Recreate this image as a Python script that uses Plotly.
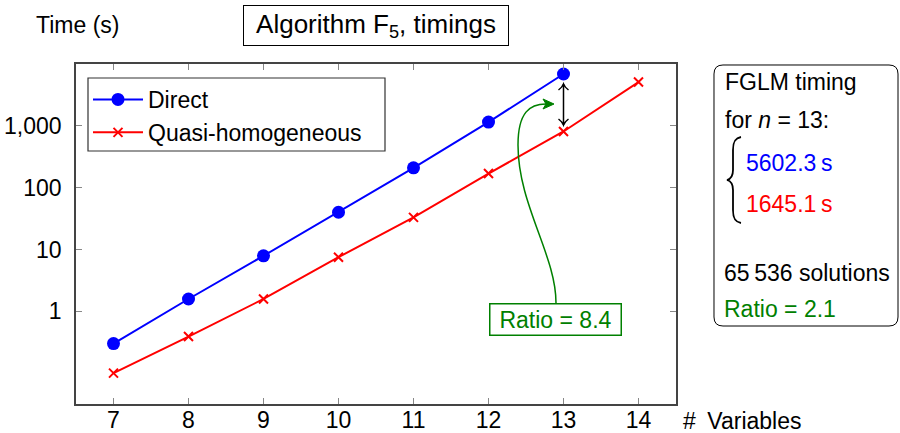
import math
import plotly.graph_objects as go

# ---- data ----
variables = [7, 8, 9, 10, 11, 12, 13, 14]
direct_times = [0.30, 1.58, 7.9, 40, 209, 1150, 6890]
quasi_times = [0.10, 0.39, 1.58, 7.5, 33, 169, 810, 5100]
y_tick_vals = [1, 10, 100, 1000]
y_tick_text = ["1", "10", "100", "1,000"]

FONT = "Liberation Sans, Arial, Helvetica, sans-serif"
FS = 23
BLUE = "#0000FF"
RED = "#FF0000"
GREEN = "#008000"

W, H = 900, 433
L, R, T, B = 76, 224, 64, 29
PW, PH = W - L - R, H - T - B
XMIN, XMAX = 6.5, 14.5


def PX(x):
    return (x - L) / PW


def PY(y):
    return (T + PH - y) / PH


def DX(px):  # pixel offset to data x units
    return px * (XMAX - XMIN) / PW


fig = go.Figure()
fig.add_trace(go.Scatter(
    x=variables[:len(direct_times)], y=direct_times, name="Direct",
    mode="lines+markers",
    line=dict(color=BLUE, width=2),
    marker=dict(symbol="circle", size=13, color=BLUE),
))
fig.add_trace(go.Scatter(
    x=variables[:len(quasi_times)], y=quasi_times, name="Quasi-homogeneous",
    mode="lines+markers",
    line=dict(color=RED, width=2),
    marker=dict(symbol="x-thin", size=9, color=RED, line=dict(color=RED, width=2)),
))

axis_common = dict(
    showgrid=False, zeroline=False, automargin=False,
    showline=True, linecolor="#444444", linewidth=1.5, mirror="ticks",
    ticks="inside", ticklen=6, tickwidth=1, tickcolor="#888888",
    tickfont=dict(family=FONT, size=FS, color="black"),
)
fig.update_xaxes(range=[XMIN, XMAX], tickvals=variables, ticklabelstandoff=-5, **axis_common)
fig.update_yaxes(type="log", range=[-1.5, 4.0], tickvals=y_tick_vals, ticktext=y_tick_text,
                 ticklabelstandoff=8, **axis_common)

shapes = []
annotations = []

# Title box
annotations.append(dict(
    text="Algorithm F<sub>5</sub>, timings", xref="paper", yref="paper",
    x=PX(376), y=PY(26), xanchor="center", yanchor="middle", showarrow=False,
    font=dict(family=FONT, size=26, color="black"),
    width=264, height=39,
    bordercolor="black", borderwidth=1, borderpad=0, bgcolor="white",
))
# Y label
annotations.append(dict(
    text="Time (s)", xref="paper", yref="paper", x=PX(34), y=PY(25),
    xanchor="left", yanchor="middle", showarrow=False,
    font=dict(family=FONT, size=FS, color="black"),
))
# X label
annotations.append(dict(
    text="#\u2002Variables", xref="paper", yref="paper", x=PX(681), y=PY(421),
    xanchor="left", yanchor="middle", showarrow=False,
    font=dict(family=FONT, size=FS, color="black"),
))

# Ratio box
annotations.append(dict(
    text="Ratio = 8.4", xref="paper", yref="paper", x=PX(555.5), y=PY(319.5),
    xanchor="center", yanchor="middle", showarrow=False,
    font=dict(family=FONT, size=FS, color=GREEN),
    width=130, height=30,
    bordercolor=GREEN, borderwidth=1.5, borderpad=0, bgcolor="white",
))


def pth(cmds):
    out = []
    for c in cmds:
        if isinstance(c, str):
            out.append(c)
        else:
            out.append(f"{PX(c[0]):.5f},{PY(c[1]):.5f}")
    return " ".join(out)


# Double arrow at n = 13 (x in data units, y in paper units)
xa = variables[6]
ya_top, ya_bot = 84, 125
shapes.append(dict(
    type="path", xref="x", yref="paper", layer="above",
    path=f"M{xa},{PY(ya_top):.5f} L{xa},{PY(ya_bot):.5f}",
    line=dict(color="black", width=1.5),
))
for yy, sgn in ((ya_top, 1), (ya_bot, -1)):
    shapes.append(dict(
        type="path", xref="x", yref="paper", layer="above",
        path=(f"M{xa - DX(5):.5f},{PY(yy + sgn * 6):.5f} "
              f"Q{xa - DX(1):.5f},{PY(yy + sgn * 3):.5f} {xa},{PY(yy):.5f} "
              f"Q{xa + DX(1):.5f},{PY(yy + sgn * 3):.5f} {xa + DX(5):.5f},{PY(yy + sgn * 6):.5f}"),
        line=dict(color="black", width=1.5),
    ))

# Green curved arrow
shapes.append(dict(
    type="path", xref="paper", yref="paper", layer="above",
    path=pth(["M", (556, 303), "C", (556, 255), (518, 205), (518, 145),
              "C", (518, 112), (530, 104), (546, 104)]),
    line=dict(color=GREEN, width=1.5),
))
shapes.append(dict(
    type="path", xref="paper", yref="paper", layer="above",
    path=pth(["M", (554, 104), "L", (543, 99), "L", (546, 104), "L", (543, 109), "Z"]),
    line=dict(color=GREEN, width=1), fillcolor=GREEN,
))

# Legend frame
shapes.append(dict(
    type="rect", xref="paper", yref="paper", layer="above",
    x0=PX(88), x1=PX(385), y0=PY(151), y1=PY(78),
    line=dict(color="#333333", width=1.2),
))

# Right rounded box
x0, x1, y0, y1, r = 714, 898, 65, 326, 9
shapes.append(dict(
    type="path", xref="paper", yref="paper", layer="above",
    path=pth(["M", (x0 + r, y0), "L", (x1 - r, y0), "Q", (x1, y0), (x1, y0 + r),
              "L", (x1, y1 - r), "Q", (x1, y1), (x1 - r, y1),
              "L", (x0 + r, y1), "Q", (x0, y1), (x0, y1 - r),
              "L", (x0, y0 + r), "Q", (x0, y0), (x0 + r, y0), "Z"]),
    line=dict(color="black", width=1),
))

# Brace
shapes.append(dict(
    type="path", xref="paper", yref="paper", layer="above",
    path=pth(["M", (741, 137), "C", (735, 138), (733, 142), (733, 150),
              "L", (733, 170), "C", (733, 176), (731, 179), (727, 180),
              "C", (731, 181), (733, 184), (733, 190),
              "L", (733, 210), "C", (733, 218), (735, 222), (741, 223)]),
    line=dict(color="black", width=1.8),
))

box_lines = [
    ("FGLM timing", 723, 82, "black"),
    ("for <i>n</i> = 13:", 723, 120, "black"),
    ("5602.3\u2009s", 744, 163, BLUE),
    ("1645.1\u2009s", 744, 204, RED),
    ("65\u2009536 solutions", 722, 273, "black"),
    ("Ratio = 2.1", 722, 309, GREEN),
]
for txt, xx, yy, col in box_lines:
    annotations.append(dict(
        text=txt, xref="paper", yref="paper", x=PX(xx), y=PY(yy),
        xanchor="left", yanchor="middle", showarrow=False,
        font=dict(family=FONT, size=FS, color=col),
    ))

fig.update_layout(
    width=W, height=H,
    margin=dict(l=L, r=R, t=T, b=B, pad=0, autoexpand=False),
    paper_bgcolor="white", plot_bgcolor="white",
    showlegend=True,
    legend=dict(
        x=PX(88), y=PY(78), xanchor="left", yanchor="top",
        borderwidth=0, bgcolor="rgba(255,255,255,0)",
        font=dict(family=FONT, size=FS, color="black"),
        tracegroupgap=0, itemwidth=50,
    ),
    shapes=shapes, annotations=annotations,
)

fig.write_html(
    "out.html",
    config={"displayModeBar": False},
    post_script="document.body.style.margin='0';document.body.style.overflow='hidden';",
)
